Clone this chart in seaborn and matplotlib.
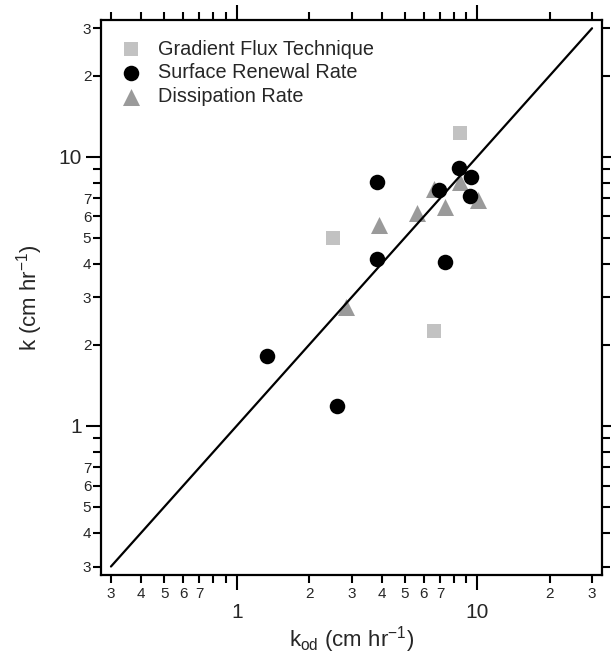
import matplotlib
matplotlib.use("Agg")
import matplotlib.pyplot as plt
import matplotlib.ticker as mticker
import seaborn as sns
import pandas as pd

# ---- data ----
gft_x = [8.5, 2.52, 6.58]
gft_y = [12.2, 4.99, 2.25]
srr_x = [3.82, 8.36, 9.41, 6.90, 9.35, 3.82, 7.31, 1.34, 2.62]
srr_y = [8.05, 9.08, 8.40, 7.54, 7.12, 4.18, 4.06, 1.81, 1.18]
dr_x = [3.92, 5.61, 7.31, 6.58, 8.5, 10.1, 2.85]
dr_y = [5.59, 6.18, 6.50, 7.60, 8.05, 6.88, 2.76]
line_x = [0.3, 30]
line_y = [0.3, 30]
labels = ["Gradient Flux Technique", "Surface Renewal Rate", "Dissipation Rate"]
major_ticks = [1, 10]
major_labels = ["1", "10"]
minor_ticks = [0.3, 0.4, 0.5, 0.6, 0.7, 0.8, 0.9, 2, 3, 4, 5, 6, 7, 8, 9, 20, 30]
minor_labels = ["3", "4", "5", "6", "7", "", "", "2", "3", "4", "5", "6", "7", "", "", "2", "3"]

sns.set_style("ticks")
plt.rcParams["font.family"] = ["Liberation Sans", "DejaVu Sans"]
plt.rcParams["mathtext.fontset"] = "custom"
plt.rcParams["mathtext.rm"] = "Liberation Sans"
plt.rcParams["mathtext.it"] = "Liberation Sans"

fig = plt.figure(figsize=(6.11, 6.55), dpi=100)
ax = fig.add_axes([101 / 611, 1 - 575 / 655, 501 / 611, 555 / 655])

df_g = pd.DataFrame({"x": gft_x, "y": gft_y})
df_s = pd.DataFrame({"x": srr_x, "y": srr_y})
df_d = pd.DataFrame({"x": dr_x, "y": dr_y})

sns.scatterplot(data=df_g, x="x", y="y", marker="s", s=95, color="#c2c2c2",
                linewidth=0, ax=ax, label=labels[0], zorder=2)
sns.scatterplot(data=df_d, x="x", y="y", marker="^", s=150, color="#9a9a9a",
                linewidth=0, ax=ax, label=labels[2], zorder=3)
sns.scatterplot(data=df_s, x="x", y="y", marker="o", s=125, color="black",
                linewidth=0, ax=ax, label=labels[1], zorder=4)
sns.lineplot(x=line_x, y=line_y, color="black", linewidth=1.6, ax=ax, zorder=5)

ax.set_xscale("log")
ax.set_yscale("log")
ax.set_xlim(0.2727, 33.0)
ax.set_ylim(0.279, 32.2)

for axis in (ax.xaxis, ax.yaxis):
    axis.set_major_locator(mticker.FixedLocator(major_ticks))
    axis.set_major_formatter(mticker.FixedFormatter(major_labels))
    axis.set_minor_locator(mticker.FixedLocator(minor_ticks))
    axis.set_minor_formatter(mticker.FixedFormatter(minor_labels))

ax.tick_params(which="both", direction="out", top=True, right=True, width=1.5, color="black")
ax.tick_params(which="major", length=11)
ax.tick_params(which="minor", length=5.5)
ax.tick_params(axis="x", which="major", labelsize=15, pad=9)
ax.tick_params(axis="x", which="minor", labelsize=11, pad=3)
ax.tick_params(axis="y", which="major", labelsize=15, pad=2.5)
ax.tick_params(axis="y", which="minor", labelsize=11, pad=1.5)

for sp in ax.spines.values():
    sp.set_linewidth(1.6)
    sp.set_color("black")

ax.set_xlabel("k$_\\mathregular{od}$ (cm hr$^\\mathregular{-1}$)", fontsize=16, labelpad=2)
ax.set_ylabel("k (cm hr$^\\mathregular{-1}$)", fontsize=16, labelpad=10)

h, l = ax.get_legend_handles_labels()
order = [l.index(t) for t in labels]
ax.legend([h[i] for i in order], [l[i] for i in order], loc="upper left",
          bbox_to_anchor=(0.004, 0.997), frameon=False, fontsize=14.3,
          handlelength=1.0, handletextpad=0.85, labelspacing=0.24,
          borderaxespad=0.4, borderpad=0.5)

fig.savefig("out.png", dpi=100)
